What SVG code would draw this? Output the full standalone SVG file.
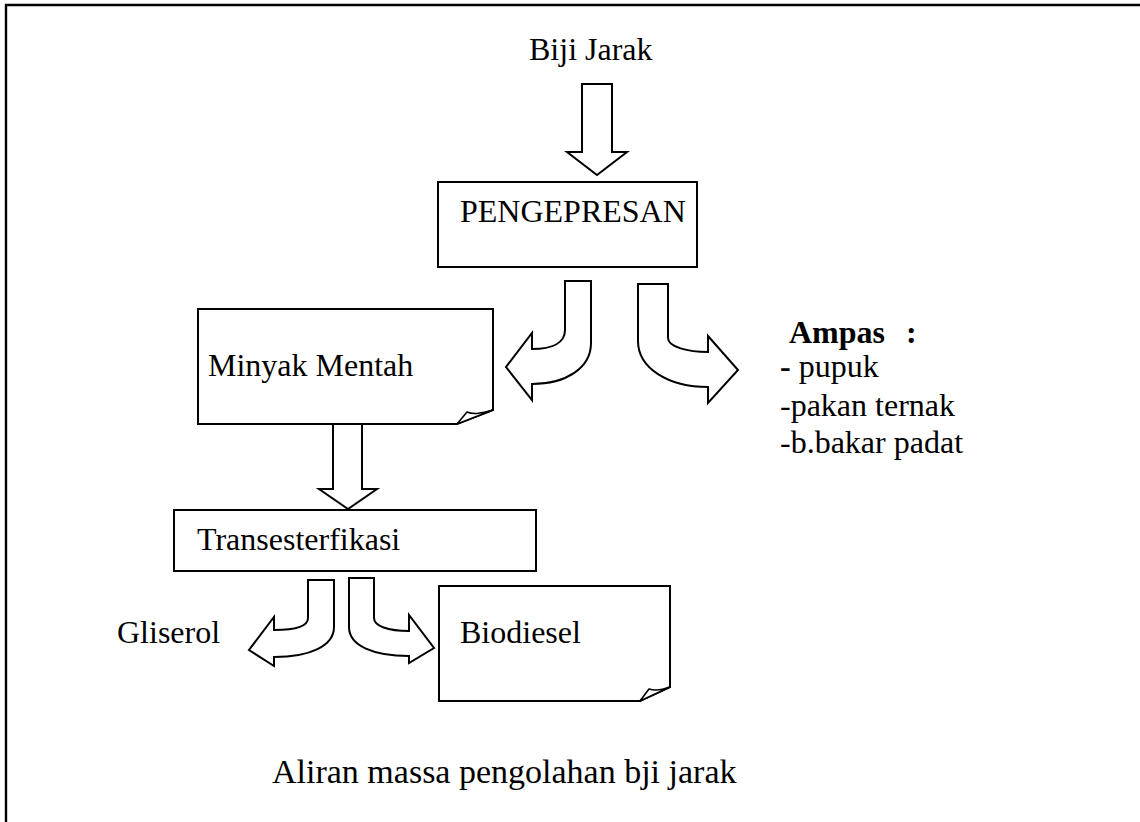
<svg xmlns="http://www.w3.org/2000/svg" width="1140" height="822" viewBox="0 0 1140 822">
  <style>
    .frame { fill: none; stroke: #000; stroke-width: 2.4; }
    .box { fill: #fff; stroke: #000; stroke-width: 2; }
    .arrow { fill: #fff; stroke: #000; stroke-width: 2; stroke-linejoin: miter; }
    .curl { fill: #fff; stroke: #000; stroke-width: 1.6; stroke-linejoin: round; }
    .lbl { font-family: "Liberation Serif", "Times New Roman", serif; font-size: 32px; fill: #000; }
    .bold { font-weight: bold; }
    .cap { font-size: 34px; }
  </style>

  <rect x="0" y="0" width="1140" height="822" fill="#fff"/>
  <!-- page frame -->
  <path class="frame" d="M6,822 V5 H1140"/>

  <g id="connectors">
    <!-- Biji Jarak -> PENGEPRESAN -->
    <path class="arrow" d="M582,84 H612 V152 H627 L597,175 L567,152 H582 Z"/>
    <!-- PENGEPRESAN -> Minyak Mentah (bent left) -->
    <path class="arrow" d="M565,281 H591 V343 C591,368 566,384 532,384 V400 L506,367 L532,333 V349 C552,349 565,343 565,330 Z"/>
    <!-- PENGEPRESAN -> Ampas (bent right) -->
    <path class="arrow" d="M638,284 H668 V338 C668,347 688,352 708,352 V336 L738,370 L708,403 V387 C668,387 638,368 638,341 Z"/>
    <!-- Minyak Mentah -> Transesterfikasi -->
    <path class="arrow" d="M333,424 H362 V489 H377 L348,509 L319,489 H333 Z"/>
    <!-- Transesterfikasi -> Gliserol (bent left) -->
    <path class="arrow" d="M308,580 H334 V627 C334,646 310,657 274,657 V666 L249,650 L274,617 V630 C294,630 308,627 308,618 Z"/>
    <!-- Transesterfikasi -> Biodiesel (bent right) -->
    <path class="arrow" d="M349,578 H374 V618 C374,626 388,631 409,631 V615 L434,648 L409,663 V656 C374,656 349,646 349,627 Z"/>
  </g>

  <g id="node-biji-jarak">
    <text class="lbl" x="529" y="60">Biji Jarak</text>
  </g>

  <g id="node-pengepresan">
    <rect class="box" x="438" y="182" width="259" height="85"/>
    <text class="lbl" x="460" y="222">PENGEPRESAN</text>
  </g>

  <g id="node-minyak-mentah">
    <path class="box" d="M198,309 H493 V410 L457,424 H198 Z"/>
    <path class="curl" d="M457,424 L467,412 C474,415 482,413 493,410 Z"/>
    <text class="lbl" x="208" y="376">Minyak Mentah</text>
  </g>

  <g id="node-ampas">
    <text class="lbl bold" x="789" y="343">Ampas<tspan x="906">:</tspan></text>
    <text class="lbl" x="780" y="377"><tspan class="bold">-</tspan> pupuk</text>
    <text class="lbl" x="780" y="416">-pakan ternak</text>
    <text class="lbl" x="780" y="453">-b.bakar padat</text>
  </g>

  <g id="node-transesterfikasi">
    <rect class="box" x="174" y="510" width="362" height="61"/>
    <text class="lbl" x="197" y="550">Transesterfikasi</text>
  </g>

  <g id="node-gliserol">
    <text class="lbl" x="117" y="643">Gliserol</text>
  </g>

  <g id="node-biodiesel">
    <path class="box" d="M439,586 H670 V687 L640,701 H439 Z"/>
    <path class="curl" d="M640,701 L649,689 C655,691 662,690 670,687 Z"/>
    <text class="lbl" x="460" y="643">Biodiesel</text>
  </g>

  <g id="caption">
    <text class="lbl cap" x="272" y="783">Aliran massa pengolahan bji jarak</text>
  </g>
</svg>
